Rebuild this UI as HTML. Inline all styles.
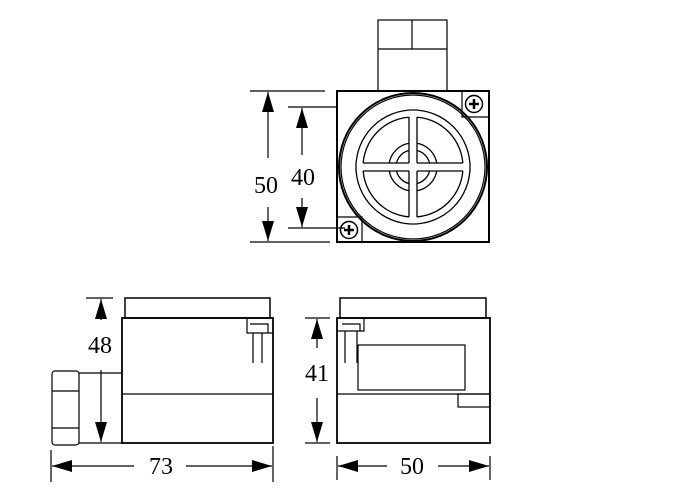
<!DOCTYPE html>
<html><head><style>body{margin:0;background:#fff}svg{display:block}</style></head><body>
<svg width="700" height="502" viewBox="0 0 700 502" xmlns="http://www.w3.org/2000/svg" font-family="Liberation Serif, serif" font-size="24" fill="none" stroke="#000" stroke-width="1.2">
<defs>
<marker id="a" markerWidth="22" markerHeight="14" refX="0" refY="6" orient="auto" markerUnits="userSpaceOnUse" overflow="visible"><path d="M0,6 L20,0 L20,12 Z" fill="#000" stroke="none"/></marker>
</defs>
<!-- TOP VIEW -->
<rect x="378" y="20" width="69" height="71"/>
<line x1="378" y1="49" x2="447" y2="49"/>
<line x1="412" y1="20" x2="412" y2="49"/>
<rect x="337" y="91" width="152" height="151" stroke-width="2"/>
<circle cx="413" cy="167" r="74" stroke-width="2"/>
<circle cx="413" cy="167" r="72"/>
<g stroke-width="1.3">
<circle cx="413" cy="167" r="57"/>
<circle cx="413" cy="167" r="24"/>
<circle cx="413" cy="167" r="17"/>
<circle cx="413" cy="167" r="50"/>
</g>
<g fill="#fff" stroke="none">
<rect x="409" y="109" width="8" height="116"/><rect x="355" y="163" width="116" height="8"/>
</g>
<g stroke-width="1.3">
<path d="M409,117 V163 M417,117 V163 M409,171 V217 M417,171 V217 M363,163 H409 M363,171 H409 M417,163 H463 M417,171 H463"/>
<path d="M409,110 H417 M409,224 H417 M356,163 V171 M470,163 V171"/>
</g>
<path d="M462,91 V117 H489 M337,217 H362 V242"/>
<circle cx="474" cy="104" r="8.5" stroke-width="1.5"/>
<path d="M469,104 H479 M474,99 V109" stroke-width="2.5"/>
<circle cx="349" cy="230" r="8.5" stroke-width="1.5"/>
<path d="M344,230 H354 M349,225 V235" stroke-width="2.5"/>
<path d="M250,91 H325 M250,242 H330 M288,107 H337 M288,228 H345"/>
<line x1="268" y1="92" x2="268" y2="158" marker-start="url(#a)"/>
<line x1="268" y1="241" x2="268" y2="207" marker-start="url(#a)"/>
<line x1="302" y1="108" x2="302" y2="155" marker-start="url(#a)"/>
<line x1="302" y1="227" x2="302" y2="198" marker-start="url(#a)"/>
<text x="266" y="193" fill="#000" stroke="none" text-anchor="middle">50</text>
<text x="303" y="185" fill="#000" stroke="none" text-anchor="middle">40</text>
<!-- LEFT SIDE VIEW -->
<rect x="125" y="298" width="145" height="20" stroke-width="1.5"/>
<rect x="122" y="318" width="151" height="125" stroke-width="1.8"/>
<line x1="122" y1="394" x2="273" y2="394"/>
<rect x="52" y="371" width="27" height="74" rx="3"/>
<path d="M52,391 H79 M52,428 H79"/>
<path d="M79,373 H122 M79,443 H122"/>
<path d="M247,318 V333 H273 M250,324 H268 V333 M253,333 V363 M262,333 V363"/>
<path d="M86,298 H113"/>
<line x1="101" y1="299" x2="101" y2="320" marker-start="url(#a)"/>
<line x1="101" y1="442" x2="101" y2="370" marker-start="url(#a)"/>
<text x="100" y="353" fill="#000" stroke="none" text-anchor="middle">48</text>
<path d="M51,450 V482 M273,446 V482"/>
<line x1="52" y1="466" x2="134" y2="466" marker-start="url(#a)"/>
<line x1="272" y1="466" x2="186" y2="466" marker-start="url(#a)"/>
<text x="161" y="474" fill="#000" stroke="none" text-anchor="middle">73</text>
<!-- RIGHT SIDE VIEW -->
<rect x="340" y="298" width="146" height="20" stroke-width="1.5"/>
<rect x="337" y="318" width="153" height="125" stroke-width="1.8"/>
<line x1="337" y1="394" x2="490" y2="394"/>
<rect x="358" y="345" width="107" height="45"/>
<rect x="458" y="394" width="32" height="13"/>
<path d="M337,331 H364 V318 M342,324 H360 V331 M345,331 V363 M357,331 V363"/>
<path d="M305,318 H330 M305,443 H330"/>
<line x1="317" y1="319" x2="317" y2="348" marker-start="url(#a)"/>
<line x1="317" y1="442" x2="317" y2="398" marker-start="url(#a)"/>
<text x="317" y="381" fill="#000" stroke="none" text-anchor="middle">41</text>
<path d="M337,456 V480 M490,456 V480"/>
<line x1="338" y1="466" x2="387" y2="466" marker-start="url(#a)"/>
<line x1="489" y1="466" x2="438" y2="466" marker-start="url(#a)"/>
<text x="412" y="474" fill="#000" stroke="none" text-anchor="middle">50</text>
</svg>
</body></html>
